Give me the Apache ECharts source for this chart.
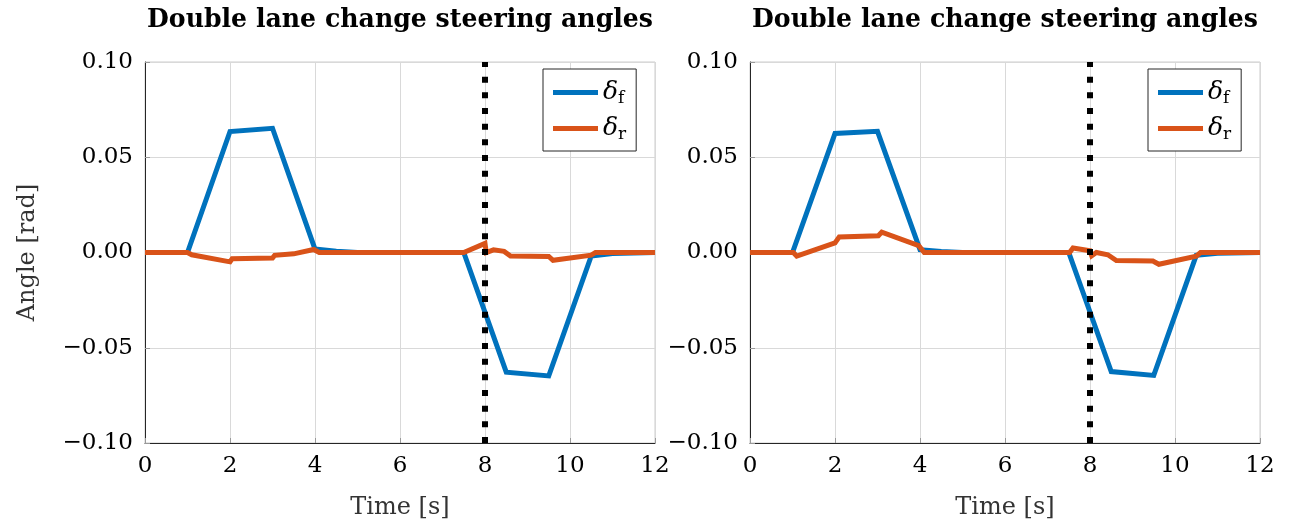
<!DOCTYPE html>
<html><head><meta charset="utf-8">
<script src="https://cdn.jsdelivr.net/npm/echarts@6/dist/echarts.min.js"></script>
<style>html,body{margin:0;padding:0;background:#fff}#c{width:1291px;height:525px}</style>
</head><body><div id="c"></div>
<script>
// ---- data ----
const chartTitle = 'Double lane change steering angles';
const xAxisName = 'Time [s]';
const yAxisName = 'Angle [rad]';
const seriesNames = ['df', 'dr'];
const markerTime = 8;

const leftFrontTime  = [0, 1, 2, 3, 4, 4.5, 5, 7.5, 8.5, 9.5, 10.5, 11, 12];
const leftFrontAngle = [0, 0, 0.0635, 0.0652, 0.0018, 0.0006, 0, 0, -0.0628, -0.0648, -0.0018, -0.0005, 0];
const leftRearTime   = [0, 1, 1.1, 2, 2.05, 3, 3.05, 3.5, 3.97, 4.1, 7.5, 8.0, 8.03, 8.2, 8.45, 8.6, 9.5, 9.6, 10.5, 10.6, 12];
const leftRearAngle  = [0, 0, -0.0012, -0.0049, -0.0033, -0.0029, -0.0015, -0.0007, 0.0016, 0, 0, 0.0048, 0, 0.0014, 0.0006, -0.0018, -0.0021, -0.0041, -0.0014, 0, 0];

const rightFrontTime  = [0, 1, 2, 3, 4, 4.5, 5, 7.5, 8.5, 9.5, 10.5, 11, 12];
const rightFrontAngle = [0, 0, 0.0625, 0.0636, 0.0015, 0.0005, 0, 0, -0.0625, -0.0645, -0.0015, -0.0004, 0];
const rightRearTime   = [0, 1.02, 1.1, 2.0, 2.1, 3.02, 3.1, 3.97, 4.1, 7.52, 7.6, 8.0, 8.04, 8.15, 8.42, 8.62, 9.48, 9.62, 10.5, 10.6, 12];
const rightRearAngle  = [0, 0, -0.0019, 0.005, 0.0082, 0.0088, 0.0107, 0.0036, 0, 0, 0.0024, 0.0009, -0.0017, 0, -0.0012, -0.0042, -0.0045, -0.0062, -0.0019, 0, 0];

// ---- chart ----
const FONT = 'DejaVu Serif';
const BLUE = '#0072BD', ORANGE = '#D95319';
const zip = (a, b) => a.map((t, i) => [t, b[i]]);

const grids = [
  { left: 145, top: 62, width: 510, height: 382 },
  { left: 750, top: 62, width: 510, height: 382 }
];

function yFmt(v) {
  if (Math.abs(v) < 1e-9) return '0.00';
  return v.toFixed(2).replace('-', '\u2212');
}

const xAxes = grids.map((g, i) => ({
  type: 'value', gridIndex: i, min: 0, max: 12, interval: 2,
  name: xAxisName, nameLocation: 'middle', nameGap: 53,
  nameTextStyle: { fontFamily: FONT, fontSize: 24, color: '#333' },
  axisLine: { show: true, onZero: false, lineStyle: { color: '#262626', width: 1 } },
  axisTick: { show: true, inside: true, length: 5, lineStyle: { color: '#999' } },
  axisLabel: { fontFamily: FONT, fontSize: 23, color: '#000', margin: 12 },
  splitLine: { show: true, lineStyle: { color: '#d9d9d9', width: 1 } }
}));

const yAxes = grids.map((g, i) => ({
  type: 'value', gridIndex: i, min: -0.1, max: 0.1, interval: 0.05,
  name: i === 0 ? yAxisName : '', nameLocation: 'middle', nameGap: 105, nameRotate: 90,
  nameTextStyle: { fontFamily: FONT, fontSize: 24, color: '#333' },
  axisLine: { show: true, onZero: false, lineStyle: { color: '#262626', width: 1 } },
  axisTick: { show: true, inside: true, length: 5, lineStyle: { color: '#999' } },
  axisLabel: { fontFamily: FONT, fontSize: 23, color: '#000', margin: 12, formatter: yFmt },
  splitLine: { show: true, lineStyle: { color: '#d9d9d9', width: 1 } }
}));

function lineSeries(name, data, color, idx, withMark) {
  const s = {
    name, type: 'line', xAxisIndex: idx, yAxisIndex: idx, data,
    showSymbol: false, symbol: 'none', animation: false,
    lineStyle: { color, width: 5, join: 'miter' }, itemStyle: { color },
    z: name === 'dr' ? 3 : 2
  };
  if (withMark) {
    s.markLine = {
      silent: true, symbol: 'none', animation: false, label: { show: false },
      lineStyle: { color: '#000', width: 6, type: [6, 9.667], cap: 'butt' },
      data: [[{ coord: [markerTime, -0.1] }, { coord: [markerTime, 0.1] }]]
    };
  }
  return s;
}

const series = [
  lineSeries('df', zip(leftFrontTime, leftFrontAngle), BLUE, 0, true),
  lineSeries('dr', zip(leftRearTime, leftRearAngle), ORANGE, 0, false),
  lineSeries('df', zip(rightFrontTime, rightFrontAngle), BLUE, 1, true),
  lineSeries('dr', zip(rightRearTime, rightRearAngle), ORANGE, 1, false)
];

const legendRich = {
  d: { fontFamily: FONT, fontStyle: 'italic', fontSize: 25, color: '#000', lineHeight: 28 },
  s: { fontFamily: FONT, fontSize: 17, color: '#000', padding: [12, 0, 0, 0], lineHeight: 28 }
};
const legends = [543, 1148].map(x => ({
  data: seriesNames, left: x, top: 69, orient: 'vertical',
  icon: 'rect', itemWidth: 45, itemHeight: 5, itemGap: 7,
  padding: [9, 10, 8, 10], borderColor: '#262626', borderWidth: 1, backgroundColor: '#fff',
  selectedMode: false,
  formatter: n => '{d|\u03b4}{s|' + (n === 'df' ? 'f' : 'r') + '}',
  textStyle: { rich: legendRich }
}));

const titles = grids.map(g => ({
  text: chartTitle, left: g.left + g.width / 2, top: 8, textAlign: 'center', padding: 0,
  textStyle: { fontFamily: FONT, fontWeight: 'bold', fontSize: 25.2, color: '#000' }
}));

const chart = echarts.init(document.getElementById('c'), null, { renderer: 'canvas' });
chart.setOption({
  animation: false,
  backgroundColor: '#fff',
  title: titles,
  legend: legends,
  grid: grids.map(g => Object.assign({ show: true, borderColor: '#cccccc', borderWidth: 1, backgroundColor: 'transparent' }, g)),
  xAxis: xAxes,
  yAxis: yAxes,
  series
});
</script>
</body></html>
